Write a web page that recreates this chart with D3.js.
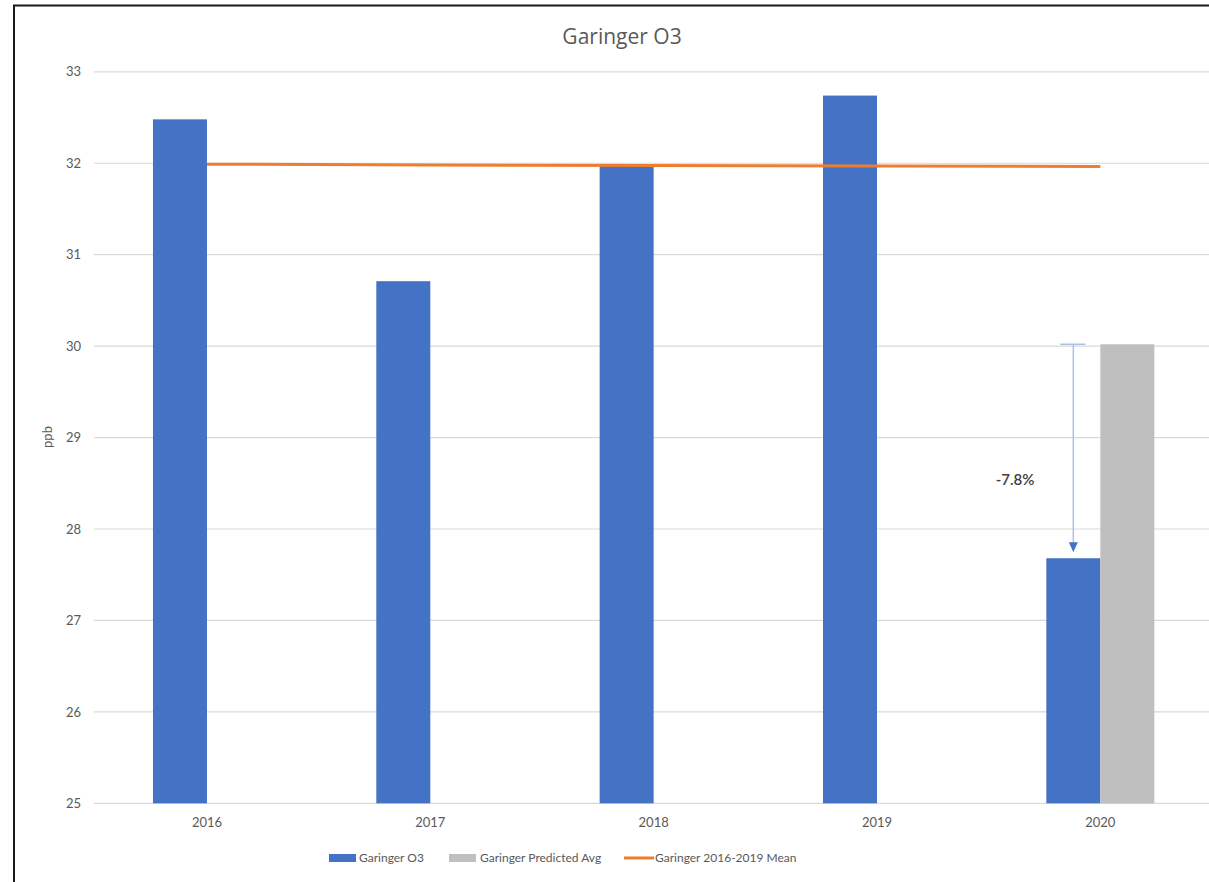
<!DOCTYPE html>
<html><head><meta charset="utf-8">
<script src="https://cdn.jsdelivr.net/npm/d3@7"></script>
<style>body{margin:0;background:#fff;}svg{display:block;font-family:Lato,"Open Sans",sans-serif;}</style>
</head><body>
<svg id="c" width="1209" height="882"></svg>
<script>
const categories = ["2016","2017","2018","2019","2020"];
const o3Values = [32.48, 30.71, 31.97, 32.74, 27.68];
const predictedValues = [null, null, null, null, 30.02];
const meanValues = [31.99, 31.98, 31.975, 31.97, 31.965];
const yTicks = [25, 26, 27, 28, 29, 30, 31, 32, 33];
const seriesNames = ["Garinger O3", "Garinger Predicted Avg", "Garinger 2016-2019 Mean"];
const annotationText = "-7.8%";

const svg = d3.select("#c");
const W = 1209, H = 882;
const txt = "#595959";

// frame (left + top)
svg.append("path").attr("d", "M14,882 V5.5 H1209").attr("fill","none").attr("stroke","#1a1a1a").attr("stroke-width",2);

const x = d3.scaleBand().domain(categories).range([95.3, 1212]);
const y = d3.scaleLinear().domain([25, 33]).range([803.3, 71.8]);

// gridlines
svg.append("g").selectAll("line").data(yTicks).join("line")
  .attr("x1", 94).attr("x2", W).attr("y1", d=>y(d)).attr("y2", d=>y(d))
  .attr("stroke", "#d9d9d9").attr("stroke-width", 1.2);

// y axis labels
const yAxis = d3.axisLeft(y).tickValues(yTicks).tickSize(0).tickPadding(0).tickFormat(d3.format("d"));
const gy = svg.append("g").attr("transform","translate(81,0)").call(yAxis);
gy.select(".domain").remove();
gy.selectAll("text").attr("fill", txt).attr("font-size", 13).attr("font-family","Lato,sans-serif");

// x axis labels
const xAxis = d3.axisBottom(x).tickSize(0).tickPadding(0);
const gx = svg.append("g").attr("transform","translate(0,818)").call(xAxis);
gx.select(".domain").remove();
gx.selectAll("text").attr("fill", txt).attr("font-size", 13).attr("font-family","Lato,sans-serif");

// bars
const bw = 54;
svg.append("g").selectAll("rect").data(o3Values).join("rect")
  .attr("x", (d,i)=>x(categories[i]) + x.bandwidth()/2 - bw)
  .attr("width", bw)
  .attr("y", d=>y(d)).attr("height", d=>y(25)-y(d))
  .attr("fill", "#4472c4");
svg.append("g").selectAll("rect").data(predictedValues.map((v,i)=>({v,i})).filter(d=>d.v!=null)).join("rect")
  .attr("x", d=>x(categories[d.i]) + x.bandwidth()/2)
  .attr("width", bw)
  .attr("y", d=>y(d.v)).attr("height", d=>y(25)-y(d.v))
  .attr("fill", "#bfbfbf");

// mean line
const line = d3.line().x((d,i)=>x(categories[i]) + x.bandwidth()/2).y(d=>y(d));
svg.append("path").datum(meanValues).attr("d", line)
  .attr("fill","none").attr("stroke","#ed7d31").attr("stroke-width",3).attr("stroke-linecap","butt");

// annotation arrow
const ax = x("2020") + x.bandwidth()/2 - 27;
const yTop = y(predictedValues[4]), yBot = y(o3Values[4]);
svg.append("line").attr("x1", ax-13).attr("x2", ax+12).attr("y1", yTop).attr("y2", yTop).attr("stroke","#a9c1ea").attr("stroke-width",1.5);
svg.append("line").attr("x1", ax).attr("x2", ax).attr("y1", yTop).attr("y2", yBot-12).attr("stroke","#a9c1ea").attr("stroke-width",1.5);
svg.append("path").attr("d", `M${ax-4.5},${yBot-16} L${ax+4.5},${yBot-16} L${ax},${yBot-6} Z`).attr("fill","#4472c4");
svg.append("text").attr("x", 1015).attr("y", 485).attr("text-anchor","middle")
  .attr("font-size", 15).attr("font-weight", 600).attr("fill","#404040").text(annotationText);

// title
svg.append("text").attr("x", 622).attr("y", 44).attr("text-anchor","middle")
  .attr("font-family","'Open Sans',sans-serif")
  .attr("font-size", 21).attr("fill", txt).text("Garinger O3");

// y label
svg.append("text").attr("transform","translate(52,437) rotate(-90)").attr("text-anchor","middle")
  .attr("font-size", 13).attr("fill", txt).text("ppb");

// legend
const lg = svg.append("g").attr("font-size", 12).attr("fill", txt);
const ly = 858;
const items = [
  {x:329, type:"rect", color:"#4472c4", tx:359},
  {x:449, type:"rect", color:"#bfbfbf", tx:480},
  {x:624, type:"line", color:"#ed7d31", tx:655}
];
items.forEach((it,i)=>{
  if (it.type==="rect") lg.append("rect").attr("x", it.x).attr("y", ly-4).attr("width", 27).attr("height", 8).attr("fill", it.color);
  else lg.append("line").attr("x1", it.x).attr("x2", it.x+30).attr("y1", ly).attr("y2", ly).attr("stroke", it.color).attr("stroke-width", 3);
  lg.append("text").attr("x", it.tx).attr("y", ly).attr("dy","0.35em").attr("fill", txt).text(seriesNames[i]);
});
</script>
</body></html>
